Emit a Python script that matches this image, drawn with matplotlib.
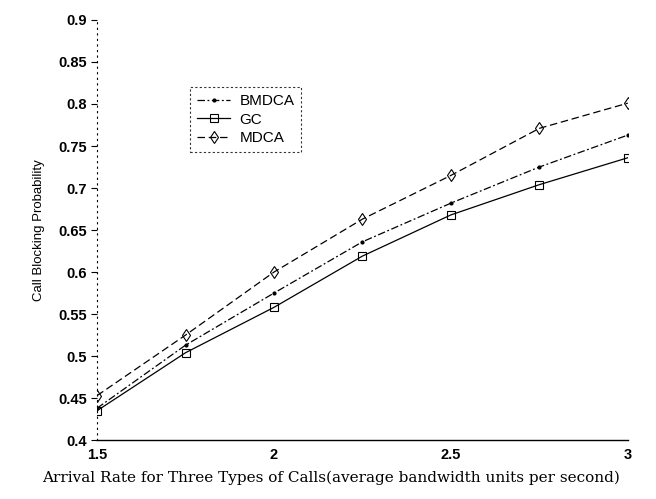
import matplotlib
matplotlib.use("Agg")
import matplotlib.pyplot as plt

x = [1.5, 1.75, 2.0, 2.25, 2.5, 2.75, 3.0]
bmdca = [0.438, 0.513, 0.575, 0.636, 0.682, 0.725, 0.763]
gc = [0.435, 0.504, 0.558, 0.619, 0.668, 0.704, 0.736]
mdca = [0.453, 0.525, 0.600, 0.663, 0.715, 0.771, 0.801]

xticks = [1.5, 2, 2.5, 3]
xticklabels = ["1.5", "2", "2.5", "3"]
yticks = [0.4, 0.45, 0.5, 0.55, 0.6, 0.65, 0.7, 0.75, 0.8, 0.85, 0.9]
yticklabels = ["0.4", "0.45", "0.5", "0.55", "0.6", "0.65", "0.7", "0.75", "0.8", "0.85", "0.9"]

fig = plt.figure(figsize=(6.56, 4.99), dpi=100)
ax = fig.add_axes([0.148, 0.118, 0.809, 0.842])

ax.plot(x, bmdca, color="black", lw=0.9, ls=(0, (6, 2, 1.5, 2)), marker=".", ms=4, label="BMDCA")
ax.plot(x, gc, color="black", lw=0.9, ls="-", marker="s", ms=6, mfc="none", mew=0.8, label="GC")
ax.plot(x, mdca, color="black", lw=0.9, ls=(0, (6, 3)), marker="d", ms=6.5, mfc="none", mew=0.8, label="MDCA")

ax.set_xlim(1.5, 3)
ax.set_ylim(0.4, 0.9)
ax.set_xticks(xticks)
ax.set_xticklabels(xticklabels, fontfamily="Liberation Sans", fontsize=10.5, fontweight="semibold")
ax.set_yticks(yticks)
ax.set_yticklabels(yticklabels, fontfamily="Liberation Sans", fontsize=10.5, fontweight="semibold")

for s in ["top", "right"]:
    ax.spines[s].set_visible(False)
ax.spines["left"].set_linestyle((0, (1, 4)))
ax.spines["left"].set_linewidth(0.8)
ax.spines["bottom"].set_linewidth(1.0)
ax.tick_params(axis="y", direction="out", length=4, width=0.8, pad=3)
ax.tick_params(axis="x", length=0, pad=6)

ax.set_ylabel("Call Blocking Probability", fontfamily="Liberation Sans", fontsize=9.5, labelpad=10)
fig.text(0.505, 0.042, "Arrival Rate for Three Types of Calls(average bandwidth units per second)",
         fontfamily="DejaVu Serif", fontsize=11, ha="center", va="center")

leg = ax.legend(loc="upper left", bbox_to_anchor=(0.175, 0.84), borderaxespad=0, frameon=True,
                fancybox=False, edgecolor="black", prop={"family": "Liberation Sans", "size": 11},
                handlelength=2.2, borderpad=0.45, labelspacing=0.3, handletextpad=0.6)
leg.get_frame().set_linewidth(0.8)
leg.get_frame().set_linestyle((0, (2, 2)))

fig.savefig("out.png", dpi=100)
